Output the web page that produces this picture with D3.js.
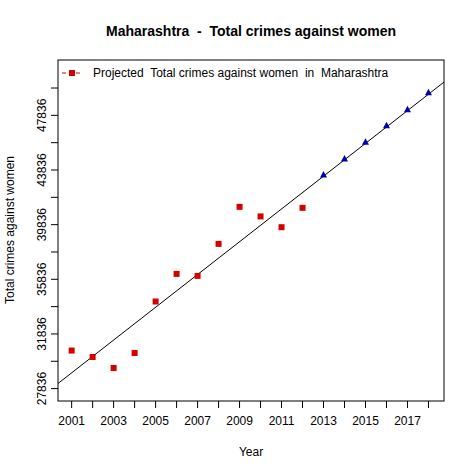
<!DOCTYPE html>
<html><head><meta charset="utf-8">
<script src="https://cdn.jsdelivr.net/npm/d3@7"></script>
<style>body{margin:0;background:#fff}text{font-family:"Liberation Sans",Arial,sans-serif;white-space:pre}</style>
</head><body><div id="content"></div>
<script>
// observed data
var years = [2001,2002,2003,2004,2005,2006,2007,2008,2009,2010,2011,2012];
var crimes = [30620,30150,29345,30444,34210,36232,36085,38430,41140,40437,39650,41067];
// projected
var projYears = [2013,2014,2015,2016,2017,2018];
var projCrimes = [43514,44686,45902,47104,48276,49522];
// trend line ends
var lineYears = [2000.35,2018.74];
var lineVals = [28210,50270];
var xTicks = d3.range(2001,2019);
var xLabels = [2001,2003,2005,2007,2009,2011,2013,2015,2017];
var yTicks = d3.range(27836,50000,2000);
var yLabels = [27836,31836,35836,39836,43836,47836];

var w = 474, h = 474,
    pLeft = 58, pRight = 444, pTop = 60, pBottom = 401;

var x = d3.scaleLinear().domain([2000.35,2018.74]).range([pLeft,pRight]);
var y = d3.scaleLinear().domain([26928,51887]).range([pBottom,pTop]);

var svg = d3.select("#content").append("svg").attr("width",w).attr("height",h);

svg.append("rect").attr("x",pLeft).attr("y",pTop).attr("width",pRight-pLeft).attr("height",pBottom-pTop)
    .attr("fill","none").attr("stroke","#000");

// x axis
var gx = svg.append("g");
gx.selectAll("line").data(xTicks).enter().append("line")
    .attr("x1",x).attr("x2",x).attr("y1",pBottom).attr("y2",pBottom+7).attr("stroke","#000");
gx.selectAll("text").data(xLabels).enter().append("text")
    .attr("x",x).attr("y",pBottom+24).attr("text-anchor","middle").attr("font-size",12).text(function(d){return d;});

// y axis
var gy = svg.append("g");
gy.selectAll("line").data(yTicks).enter().append("line")
    .attr("y1",y).attr("y2",y).attr("x1",pLeft).attr("x2",pLeft-7).attr("stroke","#000");
gy.selectAll("text").data(yLabels).enter().append("text")
    .attr("transform",function(d){return "translate("+(pLeft-12)+","+y(d)+") rotate(-90)";})
    .attr("text-anchor","middle").attr("font-size",12).text(function(d){return d;});

// trend line
svg.append("line").attr("x1",x(lineYears[0])).attr("y1",y(lineVals[0]))
    .attr("x2",x(lineYears[1])).attr("y2",y(lineVals[1])).attr("stroke","#000").attr("stroke-width",1);

// observed points
svg.selectAll("rect.pt").data(years).enter().append("rect").attr("class","pt")
    .attr("x",function(d){return x(d)-3;}).attr("y",function(d,i){return y(crimes[i])-3;})
    .attr("width",6).attr("height",6).attr("fill","#d40000");

// projected points
svg.selectAll("path.tri").data(projYears).enter().append("path").attr("class","tri")
    .attr("d",function(d,i){var cx=x(d),cy=y(projCrimes[i]);return "M"+(cx-3.5)+","+(cy+3)+"L"+(cx+3.5)+","+(cy+3)+"L"+cx+","+(cy-3.5)+"Z";})
    .attr("fill","#0000b0");

// legend
svg.append("line").attr("x1",62).attr("x2",82).attr("y1",73).attr("y2",73)
    .attr("stroke","#d40000").attr("stroke-dasharray","4,3");
svg.append("rect").attr("x",69).attr("y",70).attr("width",6).attr("height",6).attr("fill","#d40000");
svg.append("text").attr("x",93).attr("y",77).attr("font-size",12)
    .text("Projected  Total crimes against women  in  Maharashtra");

// titles
svg.append("text").attr("x",251).attr("y",36).attr("text-anchor","middle")
    .attr("font-size",14).attr("font-weight","bold").text("Maharashtra  -  Total crimes against women");
svg.append("text").attr("x",251).attr("y",456).attr("text-anchor","middle").attr("font-size",12).text("Year");
svg.append("text").attr("transform","translate(14,230) rotate(-90)").attr("text-anchor","middle")
    .attr("font-size",12).text("Total crimes against women");
</script></body></html>
